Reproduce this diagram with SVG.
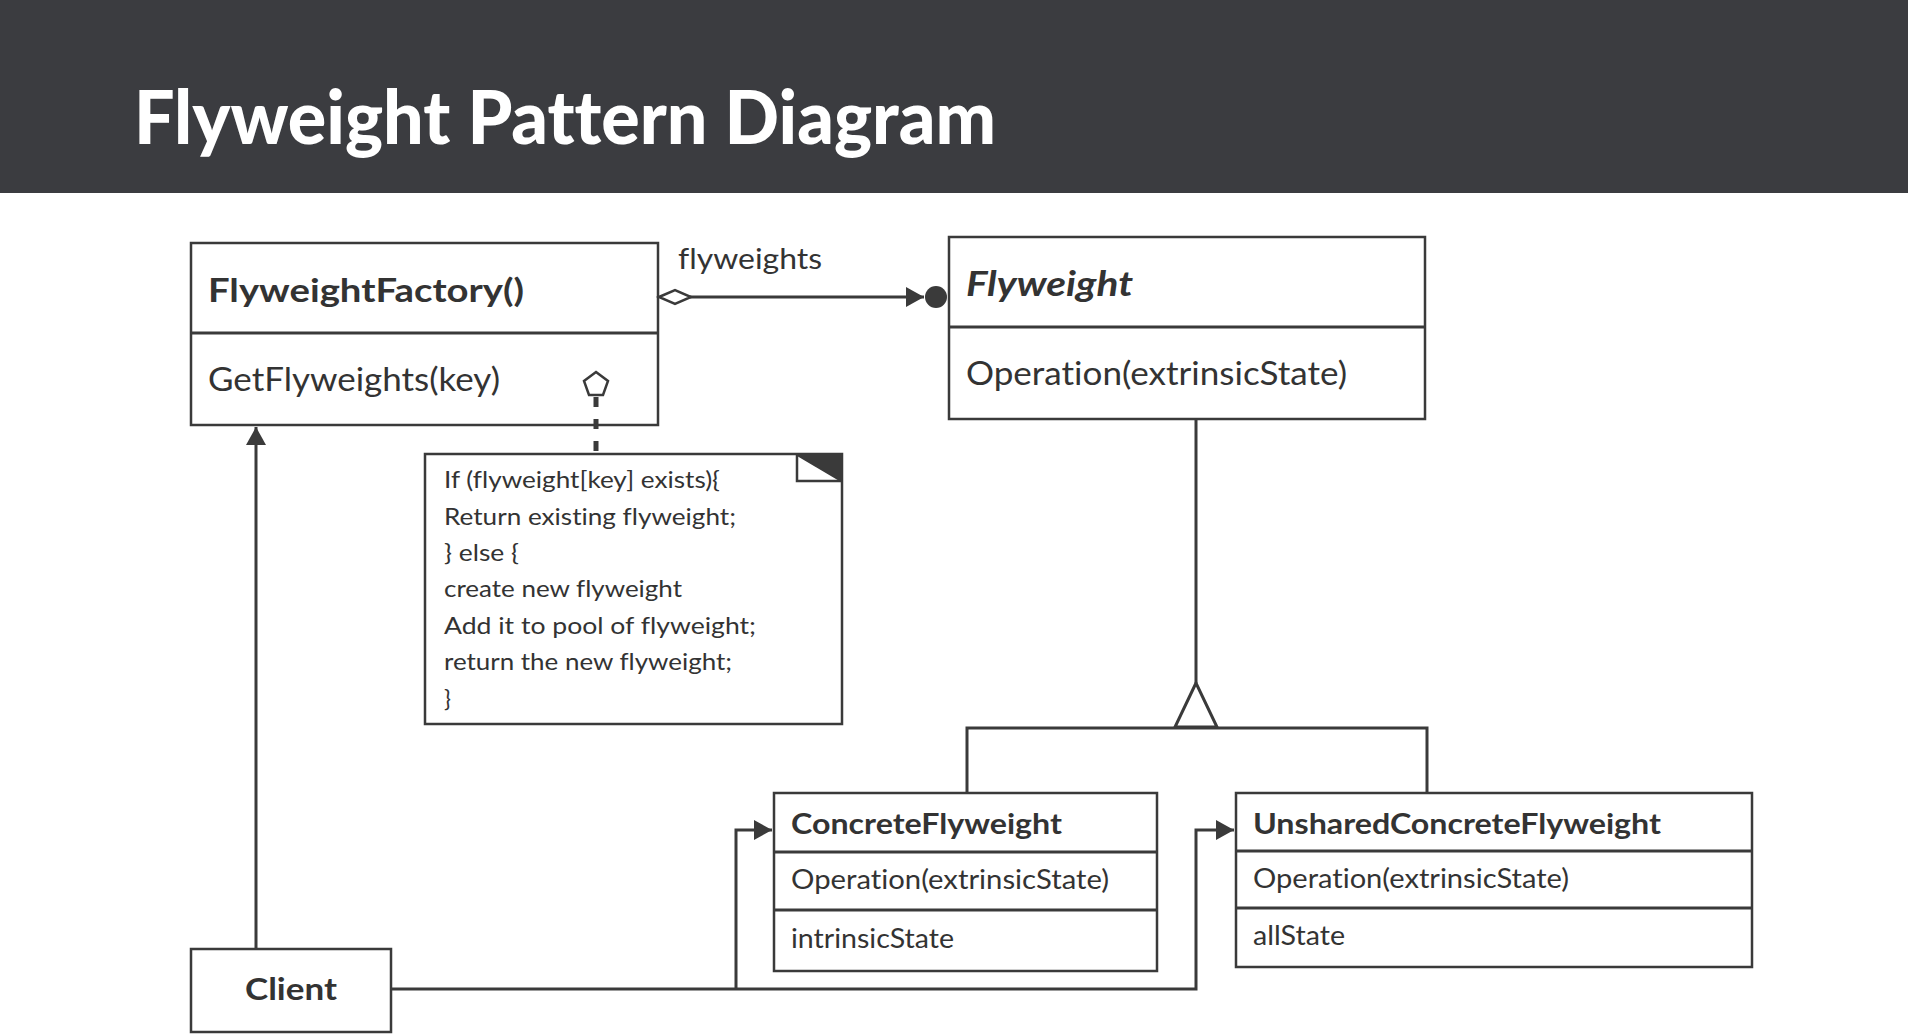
<svg xmlns="http://www.w3.org/2000/svg" width="1908" height="1036" viewBox="0 0 1908 1036">
<style>
text{font-variant-ligatures:none}
.box{fill:#fff;stroke:#3a3a3a;stroke-width:2.5}
.ln{fill:none;stroke:#3a3a3a;stroke-width:3}
.t{font-family:Lato,"Open Sans",sans-serif;fill:#333;}
.b{font-weight:bold}
</style>
<defs>
<marker id="arr" viewBox="0 0 18 20" refX="18" refY="10" markerWidth="18" markerHeight="20" markerUnits="userSpaceOnUse" orient="auto">
<path d="M0,0 L18,10 L0,20 Z" fill="#3a3a3a"/>
</marker>
</defs>
<rect x="0" y="0" width="1908" height="193" fill="#3b3c40"/>
<text x="134" y="144" font-family="Lato,sans-serif" font-weight="900" font-size="74" fill="#fff" textLength="862" lengthAdjust="spacingAndGlyphs">Flyweight Pattern Diagram</text>

<g id="factory">
<rect class="box" x="191" y="243" width="467" height="182"/>
<line class="ln" x1="191" y1="333" x2="658" y2="333" stroke-width="2.5"/>
<text class="t b" x="208" y="302" font-size="33" textLength="316" lengthAdjust="spacingAndGlyphs">FlyweightFactory()</text>
<text class="t" x="208" y="391" font-size="32" textLength="292" lengthAdjust="spacingAndGlyphs">GetFlyweights(key)</text>
</g>

<g id="note">
<rect class="box" x="425" y="454" width="417" height="270"/>
<path d="M797,455 L841,455 L841,481 Z" fill="#3a3a3a"/>
<path d="M797,455 L797,481 L841,481" fill="none" stroke="#3a3a3a" stroke-width="2.5"/>
<line x1="797" y1="455" x2="841" y2="481" stroke="#3a3a3a" stroke-width="1.5"/>
<g class="t" font-size="23">
<text x="444" y="488" textLength="276" lengthAdjust="spacingAndGlyphs">If (flyweight[key] exists){</text>
<text x="444" y="525" textLength="292" lengthAdjust="spacingAndGlyphs">Return existing flyweight;</text>
<text x="444" y="561" textLength="75" lengthAdjust="spacingAndGlyphs">} else {</text>
<text x="444" y="597" textLength="238" lengthAdjust="spacingAndGlyphs">create new flyweight</text>
<text x="444" y="634" textLength="312" lengthAdjust="spacingAndGlyphs">Add it to pool of flyweight;</text>
<text x="444" y="670" textLength="288" lengthAdjust="spacingAndGlyphs">return the new flyweight;</text>
<text x="444" y="707">}</text>
</g>
</g>

<g id="flyweight">
<rect class="box" x="949" y="237" width="476" height="182"/>
<line class="ln" x1="949" y1="327" x2="1425" y2="327" stroke-width="2.5"/>
<text class="t b" x="966" y="296" font-size="34" font-style="italic" textLength="167" lengthAdjust="spacingAndGlyphs">Flyweight</text>
<text class="t" x="966" y="385" font-size="32" textLength="381" lengthAdjust="spacingAndGlyphs">Operation(extrinsicState)</text>
</g>

<g id="concrete">
<rect class="box" x="774" y="793" width="383" height="178"/>
<line class="ln" x1="774" y1="852" x2="1157" y2="852" stroke-width="2.5"/>
<line class="ln" x1="774" y1="910" x2="1157" y2="910" stroke-width="2.5"/>
<text class="t b" x="791" y="834" font-size="29" textLength="271" lengthAdjust="spacingAndGlyphs">ConcreteFlyweight</text>
<text class="t" x="791" y="889" font-size="27" textLength="318" lengthAdjust="spacingAndGlyphs">Operation(extrinsicState)</text>
<text class="t" x="791" y="948" font-size="27" textLength="163" lengthAdjust="spacingAndGlyphs">intrinsicState</text>
</g>

<g id="unshared">
<rect class="box" x="1236" y="793" width="516" height="174"/>
<line class="ln" x1="1236" y1="851" x2="1752" y2="851" stroke-width="2.5"/>
<line class="ln" x1="1236" y1="908" x2="1752" y2="908" stroke-width="2.5"/>
<text class="t b" x="1253" y="834" font-size="29" textLength="408" lengthAdjust="spacingAndGlyphs">UnsharedConcreteFlyweight</text>
<text class="t" x="1253" y="888" font-size="27" textLength="316" lengthAdjust="spacingAndGlyphs">Operation(extrinsicState)</text>
<text class="t" x="1253" y="945" font-size="27" textLength="92" lengthAdjust="spacingAndGlyphs">allState</text>
</g>

<g id="client">
<rect class="box" x="191" y="949" width="200" height="83"/>
<text class="t b" x="291" y="1000" font-size="30" text-anchor="middle" textLength="92" lengthAdjust="spacingAndGlyphs">Client</text>
</g>

<g id="connectors">
<line class="ln" x1="690" y1="297" x2="924" y2="297" marker-end="url(#arr)"/>
<path d="M659,297 L675,290 L691,297 L675,304 Z" fill="#fff" stroke="#3a3a3a" stroke-width="2.5"/>
<circle cx="936" cy="297" r="11" fill="#3a3a3a"/>
<text class="t" x="678" y="269" font-size="28" textLength="144" lengthAdjust="spacingAndGlyphs">flyweights</text>
<line x1="596" y1="397" x2="596" y2="454" stroke="#3a3a3a" stroke-width="5" stroke-dasharray="10,12"/>
<polygon points="596,372 608,381 603,395 589,395 584,381" fill="#fff" stroke="#3a3a3a" stroke-width="2.5"/>
<line class="ln" x1="1196" y1="419" x2="1196" y2="683"/>
<path class="ln" d="M1196,683 L1175,727 L1217,727 Z" fill="#fff"/>
<path class="ln" d="M967,793 L967,728 L1427,728 L1427,793"/>
<line class="ln" x1="256" y1="949" x2="256" y2="427" marker-end="url(#arr)"/>
<path class="ln" d="M391,989 L1196,989 L1196,830 L1234,830" marker-end="url(#arr)"/>
<path class="ln" d="M736,989 L736,830 L772,830" marker-end="url(#arr)"/>
</g>
</svg>
